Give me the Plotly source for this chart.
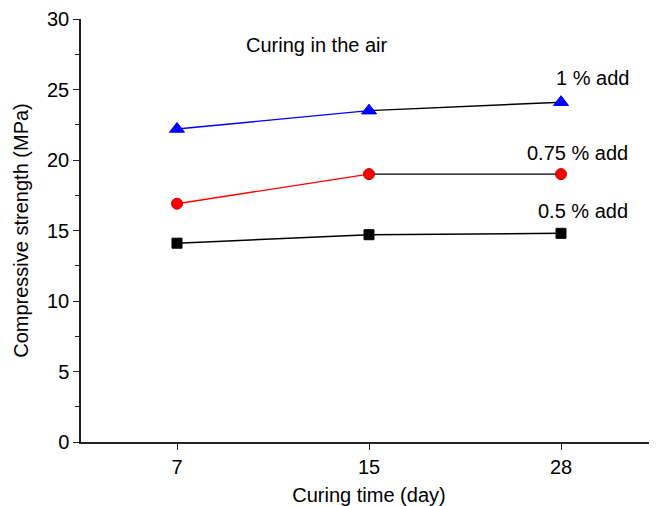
import plotly.graph_objects as go

days = ["7", "15", "28"]
series_names = ["0.5 % add", "0.75 % add", "1 % add"]
s05 = [14.1, 14.7, 14.8]
s075 = [16.9, 19.0, 19.0]
s1 = [22.2, 23.5, 24.1]
colors = ["#000000", "#ff0000", "#0000ff"]
symbols = ["square", "circle", "triangle-up"]
msizes = [10, 11, 13]

fig = go.Figure()
for name, vals, col, sym, ms in zip(series_names, [s05, s075, s1], colors, symbols, msizes):
    # first segment in series colour, second in black
    fig.add_trace(go.Scatter(x=days[:2], y=vals[:2], mode="lines",
                             line=dict(color=col, width=1.4), showlegend=False, hoverinfo="skip"))
    fig.add_trace(go.Scatter(x=days[1:], y=vals[1:], mode="lines",
                             line=dict(color="black", width=1.4), showlegend=False, hoverinfo="skip"))
    fig.add_trace(go.Scatter(x=days, y=vals, mode="markers", name=name,
                             marker=dict(symbol=sym, size=ms, color=col,
                                         line=dict(color="#cc0000" if col == "#ff0000" else col, width=1)),
                             showlegend=False))

font = "Liberation Sans, Arial, Helvetica, sans-serif"
# label positions in page pixels (x centre, y centre)
labels = [
    ("1 % add", 594, 78),
    ("0.75 % add", 579, 153),
    ("0.5 % add", 584, 211),
    ("Curing in the air", 317, 45),
]
for text, xp, yp in labels:
    fig.add_annotation(x=(xp - 177) / 192.5, xref="x", y=(441 - yp) / 422 * 30, yref="y", text=text,
                       showarrow=False, font=dict(size=20, color="black", family=font))

fig.update_layout(
    width=649, height=498,
    margin=dict(l=73, r=0, t=11, b=64),
    plot_bgcolor="white", paper_bgcolor="white",
    font=dict(family=font, size=20, color="black"),
    xaxis=dict(type="category", range=[-0.5, 2.5], showgrid=False, zeroline=False,
               showline=True, linecolor="#222", linewidth=1.5,
               ticks="outside", ticklen=6, tickcolor="#222",
               minor=dict(ticks="outside", ticklen=4, tickcolor="#222"),
               title=dict(text="Curing time (day)", font=dict(size=20), standoff=15),
               tickfont=dict(size=20)),
    yaxis=dict(range=[0, 30], dtick=5, showgrid=False, zeroline=False,
               showline=True, linecolor="#222", linewidth=1.5,
               ticks="outside", ticklen=6, tickcolor="#222",
               minor=dict(ticks="outside", ticklen=4, dtick=2.5, tickcolor="#222"),
               title=dict(text="Compressive strength (MPa)", font=dict(size=20), standoff=13),
               tickfont=dict(size=20)),
)

fig.write_html("out.html")
